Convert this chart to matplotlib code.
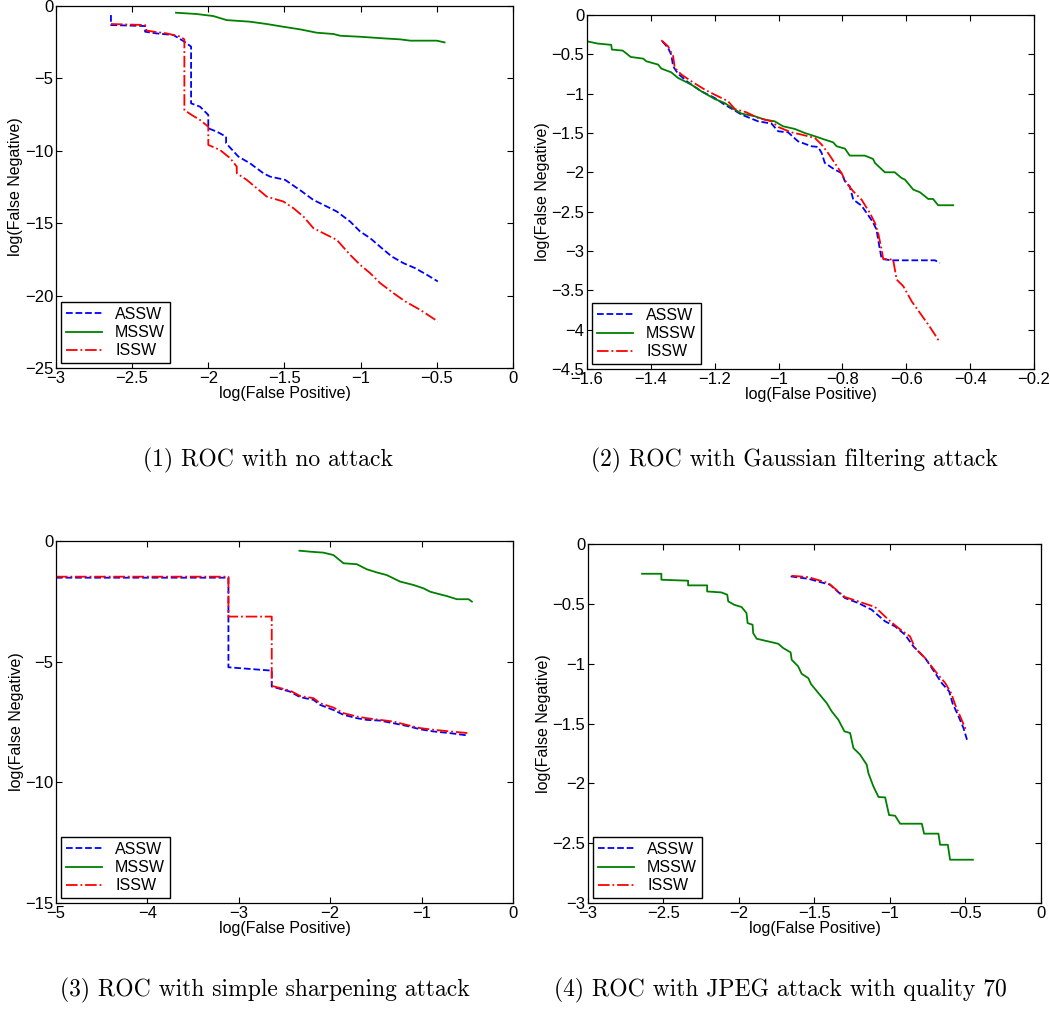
#!/usr/bin/env python
import numpy as np
import matplotlib
matplotlib.use("Agg")
import matplotlib.pyplot as plt
from matplotlib.ticker import FuncFormatter

# ---- (1) no attack ----
p1_assw_x = [-2.639, -2.639, -2.415, -2.415, -2.339, -2.229, -2.157, -2.113, -2.113, -2.054, -2.0, -2.0,
             -1.945, -1.883, -1.883, -1.802, -1.726, -1.638, -1.594, -1.496, -1.386, -1.31, -1.244,
             -1.156, -1.069, -1.003, -0.937, -0.861, -0.795, -0.718, -0.642, -0.565, -0.493]
p1_assw_y = [-0.62, -1.31, -1.38, -1.77, -1.89, -2.0, -2.46, -2.8, -6.72, -6.95, -7.52, -8.44,
             -8.67, -9.02, -9.48, -10.4, -10.86, -11.55, -11.78, -12.0, -12.8, -13.39, -13.73,
             -14.19, -14.88, -15.57, -16.03, -16.72, -17.3, -17.76, -18.1, -18.56, -19.02]
p1_mssw_x = [-2.212, -2.076, -1.967, -1.879, -1.726, -1.616, -1.507, -1.397, -1.288, -1.178, -1.134,
             -1.003, -0.85, -0.74, -0.674, -0.5, -0.449]
p1_mssw_y = [-0.46, -0.55, -0.69, -0.97, -1.08, -1.24, -1.43, -1.61, -1.84, -1.93, -2.05,
             -2.12, -2.23, -2.3, -2.39, -2.39, -2.51]
p1_issw_x = [-2.639, -2.415, -2.405, -2.273, -2.185, -2.157, -2.157, -2.109, -2.054, -2.0, -2.0,
             -1.923, -1.857, -1.813, -1.813, -1.748, -1.682, -1.616, -1.507, -1.441, -1.375, -1.31,
             -1.244, -1.156, -1.069, -1.003, -0.937, -0.872, -0.784, -0.707, -0.609, -0.493]
p1_issw_y = [-1.24, -1.31, -1.7, -1.89, -2.1, -2.3, -7.18, -7.52, -7.87, -8.33, -9.59,
             -9.94, -10.5, -11.09, -11.55, -12.0, -12.58, -13.16, -13.5, -13.96, -14.54, -15.34,
             -15.69, -16.15, -17.18, -17.87, -18.45, -19.13, -19.83, -20.4, -20.98, -21.78]

# ---- (2) Gaussian filtering ----
p2_assw_x = [-1.364, -1.346, -1.336, -1.33, -1.315, -1.283, -1.242, -1.2, -1.169, -1.142, -1.116,
             -1.064, -1.022, -1.001, -0.97, -0.939, -0.897, -0.876, -0.865, -0.855, -0.824, -0.803,
             -0.792, -0.777, -0.766, -0.74, -0.724, -0.704, -0.693, -0.688, -0.677, -0.646, -0.51, -0.495]
p2_assw_y = [-0.335, -0.419, -0.504, -0.653, -0.746, -0.856, -0.97, -1.055, -1.14, -1.203, -1.267,
             -1.352, -1.381, -1.479, -1.492, -1.606, -1.669, -1.678, -1.754, -1.881, -1.966, -2.008,
             -2.114, -2.178, -2.347, -2.424, -2.517, -2.636, -2.729, -2.856, -3.102, -3.119, -3.119, -3.153]
p2_mssw_x = [-1.6, -1.566, -1.524, -1.522, -1.488, -1.463, -1.424, -1.414, -1.377, -1.367, -1.336,
             -1.315, -1.273, -1.242, -1.2, -1.169, -1.137, -1.116, -1.074, -1.043, -1.012, -0.986,
             -0.949, -0.918, -0.886, -0.855, -0.829, -0.818, -0.792, -0.777, -0.73, -0.704, -0.698,
             -0.667, -0.636, -0.615, -0.604, -0.578, -0.557, -0.531, -0.516, -0.5, -0.453]
p2_mssw_y = [-0.335, -0.364, -0.38, -0.44, -0.453, -0.534, -0.555, -0.589, -0.631, -0.682, -0.729,
             -0.8, -0.886, -0.97, -1.068, -1.119, -1.203, -1.254, -1.288, -1.331, -1.352, -1.415,
             -1.449, -1.5, -1.542, -1.585, -1.619, -1.669, -1.699, -1.788, -1.788, -1.83, -1.881,
             -2.0, -2.0, -2.072, -2.093, -2.22, -2.254, -2.339, -2.339, -2.419, -2.419]
p2_issw_x = [-1.367, -1.346, -1.33, -1.325, -1.304, -1.273, -1.231, -1.2, -1.158, -1.137, -1.101,
             -1.064, -1.022, -1.001, -0.96, -0.928, -0.886, -0.865, -0.845, -0.824, -0.803, -0.787,
             -0.766, -0.74, -0.714, -0.698, -0.688, -0.677, -0.672, -0.641, -0.63, -0.609, -0.583,
             -0.557, -0.531, -0.51, -0.495]
p2_issw_y = [-0.322, -0.398, -0.525, -0.674, -0.758, -0.843, -0.949, -1.013, -1.097, -1.195, -1.237,
             -1.309, -1.352, -1.424, -1.492, -1.521, -1.564, -1.648, -1.754, -1.881, -2.008, -2.136,
             -2.242, -2.347, -2.517, -2.644, -2.771, -2.983, -3.102, -3.11, -3.364, -3.449, -3.64,
             -3.788, -3.936, -4.064, -4.161]

# ---- (3) simple sharpening ----
p3_assw_x = [-5.0, -3.113, -3.113, -2.639, -2.639, -2.438, -2.328, -2.182, -2.109, -1.964, -1.854,
             -1.708, -1.599, -1.453, -1.307, -1.161, -1.015, -0.869, -0.686, -0.485]
p3_assw_y = [-1.518, -1.518, -5.23, -5.37, -6.03, -6.24, -6.47, -6.58, -6.79, -7.0, -7.2,
             -7.34, -7.41, -7.44, -7.55, -7.66, -7.8, -7.89, -7.96, -8.06]
p3_mssw_x = [-2.336, -2.219, -2.073, -1.964, -1.854, -1.708, -1.599, -1.489, -1.38, -1.234, -1.088,
             -0.978, -0.905, -0.796, -0.723, -0.613, -0.485, -0.449]
p3_mssw_y = [-0.4, -0.44, -0.48, -0.58, -0.92, -0.96, -1.17, -1.3, -1.41, -1.68, -1.82,
             -1.96, -2.1, -2.21, -2.28, -2.41, -2.41, -2.51]
p3_issw_x = [-5.0, -3.113, -3.113, -2.639, -2.639, -2.438, -2.328, -2.182, -2.109, -1.964, -1.854,
             -1.708, -1.599, -1.453, -1.307, -1.161, -1.015, -0.869, -0.686, -0.485]
p3_issw_y = [-1.476, -1.476, -3.13, -3.13, -6.0, -6.2, -6.42, -6.51, -6.72, -6.9, -7.13,
             -7.27, -7.34, -7.41, -7.48, -7.62, -7.75, -7.82, -7.89, -7.96]

# ---- (4) JPEG quality 70 ----
p4_assw_x = [-1.658, -1.541, -1.397, -1.298, -1.209, -1.121, -1.032, -0.966, -0.9, -0.845, -0.767,
             -0.723, -0.657, -0.608, -0.586, -0.546, -0.513, -0.49]
p4_assw_y = [-0.27, -0.29, -0.34, -0.451, -0.493, -0.549, -0.646, -0.688, -0.758, -0.855, -0.953,
             -1.036, -1.162, -1.231, -1.329, -1.44, -1.538, -1.635]
p4_mssw_x = [-2.642, -2.514, -2.514, -2.337, -2.337, -2.211, -2.211, -2.116, -2.078, -2.071, -2.032,
             -1.983, -1.95, -1.943, -1.91, -1.906, -1.883, -1.74, -1.707, -1.658, -1.651, -1.608,
             -1.585, -1.541, -1.523, -1.474, -1.419, -1.386, -1.342, -1.302, -1.264, -1.242, -1.198,
             -1.154, -1.143, -1.11, -1.076, -1.032, -1.006, -0.966, -0.933, -0.789, -0.774, -0.679,
             -0.668, -0.617, -0.602, -0.451]
p4_mssw_y = [-0.248, -0.248, -0.298, -0.306, -0.345, -0.345, -0.396, -0.404, -0.423, -0.479, -0.507,
             -0.526, -0.577, -0.66, -0.674, -0.744, -0.791, -0.833, -0.869, -0.905, -0.967, -1.022,
             -1.084, -1.12, -1.17, -1.245, -1.329, -1.398, -1.468, -1.565, -1.579, -1.705, -1.76,
             -1.844, -1.914, -2.025, -2.114, -2.117, -2.265, -2.27, -2.337, -2.337, -2.42, -2.42,
             -2.513, -2.513, -2.638, -2.638]
p4_issw_x = [-1.651, -1.541, -1.408, -1.298, -1.209, -1.099, -1.01, -0.944, -0.867, -0.834, -0.767,
             -0.69, -0.634, -0.595, -0.568, -0.535, -0.497]
p4_issw_y = [-0.265, -0.276, -0.326, -0.443, -0.479, -0.526, -0.632, -0.702, -0.772, -0.869, -0.953,
             -1.078, -1.162, -1.245, -1.343, -1.44, -1.552]

captions = ['(1) ROC with no attack',
            '(2) ROC with Gaussian filtering attack',
            '(3) ROC with simple sharpening attack',
            '(4) ROC with JPEG attack with quality 70']

panels = [
    ((p1_assw_x, p1_assw_y), (p1_mssw_x, p1_mssw_y), (p1_issw_x, p1_issw_y),
     (-3, 0), (-25, 0), np.arange(-3, 0.01, 0.5), np.arange(-25, 0.01, 5)),
    ((p2_assw_x, p2_assw_y), (p2_mssw_x, p2_mssw_y), (p2_issw_x, p2_issw_y),
     (-1.6, -0.2), (-4.5, 0), np.arange(-1.6, -0.19, 0.2), np.arange(-4.5, 0.01, 0.5)),
    ((p3_assw_x, p3_assw_y), (p3_mssw_x, p3_mssw_y), (p3_issw_x, p3_issw_y),
     (-5, 0), (-15, 0), np.arange(-5, 0.01, 1), np.arange(-15, 0.01, 5)),
    ((p4_assw_x, p4_assw_y), (p4_mssw_x, p4_mssw_y), (p4_issw_x, p4_issw_y),
     (-3, 0), (-3, 0), np.arange(-3, 0.01, 0.5), np.arange(-3, 0.01, 0.5)),
]

# axes boxes in figure fractions (left, bottom, width, height)
boxes = [(0.0533, 0.6356, 0.4352, 0.3584),
         (0.5590, 0.6347, 0.4257, 0.3505),
         (0.0533, 0.1059, 0.4352, 0.3584),
         (0.5600, 0.1059, 0.4314, 0.3554)]
cap_pos = [(0.255, 0.532), (0.757, 0.532), (0.252, 0.007), (0.743, 0.007)]

plt.rcParams['font.family'] = ['Liberation Sans', 'DejaVu Sans']
plt.rcParams['font.size'] = 12

def fmt(v, pos):
    s = '%g' % round(v, 3)
    if s == '-0':
        s = '0'
    return s.replace('-', '\u2212')

fig = plt.figure(figsize=(10.5, 10.1), dpi=100)

for (assw, mssw, issw, xl, yl, xt, yt), box, cap, cp in zip(panels, boxes, captions, cap_pos):
    ax = fig.add_axes(box)
    ax.plot(assw[0], assw[1], '--', color='blue', lw=1.3, label='ASSW')
    ax.plot(mssw[0], mssw[1], '-', color=(0, 0.5, 0), lw=1.3, label='MSSW')
    ax.plot(issw[0], issw[1], '-.', color='red', lw=1.3, label='ISSW')
    ax.set_xlim(xl)
    ax.set_ylim(yl)
    ax.set_xticks(xt)
    ax.set_yticks(yt)
    ax.xaxis.set_major_formatter(FuncFormatter(fmt))
    ax.yaxis.set_major_formatter(FuncFormatter(fmt))
    ax.tick_params(direction='in', length=4, top=True, right=True, labelsize=12, pad=2)
    for sp in ax.spines.values():
        sp.set_linewidth(0.9)
    ax.set_xlabel('log(False Positive)', fontsize=11.5, labelpad=0)
    ax.set_ylabel('log(False Negative)', fontsize=11.5, labelpad=1)
    ax.legend(loc='lower left', fancybox=False, edgecolor='black', framealpha=1,
              fontsize=11.5, handlelength=2.3, borderaxespad=0.3, labelspacing=0.2,
              borderpad=0.3, handletextpad=0.8)
    fig.text(cp[0], cp[1], cap, ha='center', va='bottom', family='cmr10', fontsize=17)

plt.savefig('out.png', dpi=100)
